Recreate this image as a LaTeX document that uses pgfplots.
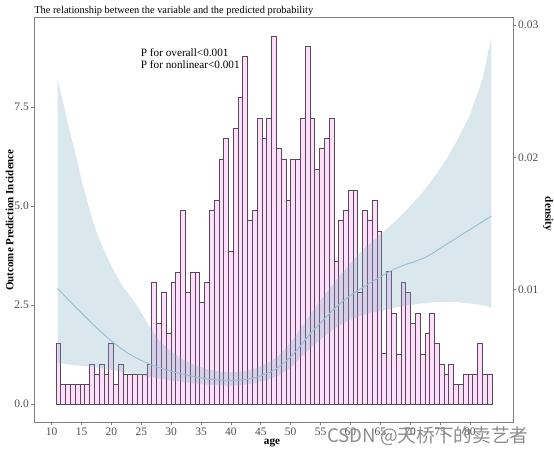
\documentclass[border=0pt]{standalone}
\usepackage{fontspec}
\setmainfont{Liberation Serif}
\newfontfamily\cjk{Noto Sans CJK SC}
\usepackage{pgfplots}
\pgfplotsset{compat=1.18}

\definecolor{barfill}{RGB}{255,222,253}
\definecolor{baredge}{RGB}{85,75,85}
\definecolor{bandcol}{RGB}{122,170,192}
\definecolor{fitcol}{RGB}{150,192,208}
\definecolor{axgray}{RGB}{128,128,128}
\definecolor{ticktext}{RGB}{77,77,77}

\pgfplotsset{base/.style={at={(0,0)}, anchor=south west, scale only axis,
  width=359.25pt, height=303.75pt},
  tickfont/.style={font=\fontsize{8.6}{10}\selectfont, text=ticktext}}

\begin{document}
\begin{tikzpicture}[x=0.75pt,y=0.75pt]

% histogram (bar index axis)
\begin{axis}[base, xmin=-4.592, xmax=95.39, ymin=-0.4545, ymax=9.773, hide axis]
\addplot[ybar interval, fill=barfill, draw=baredge, line width=0.55pt] coordinates {
(0,1.52) (1,0.50) (2,0.50) (3,0.50) (4,0.50) (5,0.50) (6,0.50) (7,1.00) (8,0.75) (9,1.00)
(10,0.75) (11,1.52) (12,0.50) (13,1.00) (14,0.75) (15,0.75) (16,0.75) (17,0.75) (18,0.75) (19,1.00)
(20,3.06) (21,2.04) (22,2.81) (23,1.79) (24,3.06) (25,3.32) (26,4.88) (27,2.82) (28,3.32) (29,3.32)
(30,2.57) (31,3.07) (32,4.88) (33,5.13) (34,6.19) (35,6.70) (36,3.86) (37,6.95) (38,7.74) (39,8.77)
(40,4.63) (41,4.88) (42,7.21) (43,6.70) (44,7.21) (45,9.29) (46,6.45) (47,6.19) (48,5.13) (49,6.19)
(50,6.19) (51,7.21) (52,9.04) (53,7.21) (54,5.93) (55,6.45) (56,6.70) (57,7.21) (58,3.60) (59,4.63)
(60,4.88) (61,5.40) (62,5.40) (63,2.82) (64,4.88) (65,4.63) (66,5.13) (67,4.37) (68,1.28) (69,3.34)
(70,2.29) (71,1.26) (72,3.07) (73,2.81) (74,2.04) (75,2.29) (76,1.26) (77,1.78) (78,2.29) (79,1.52)
(80,1.00) (81,0.76) (82,1.00) (83,0.50) (84,0.50) (85,0.76) (86,0.76) (87,0.76) (88,1.52) (89,0.76)
(90,0.76) (91,0.76)};
\end{axis}

% main axis: band + fitted line
\begin{axis}[base, xmin=7.038, xmax=87.21, ymin=-0.4545, ymax=9.773,
  axis line style={axgray, line width=0.6pt},
  xtick={10,15,...,80}, xticklabels={10,15,20,25,30,35,40,45,50,55,60,65,70,75,80},
  ytick={0,2.5,5,7.5}, yticklabels={0.0,2.5,5.0,7.5},
  xtick pos=bottom, ytick pos=left, tick align=outside,
  major tick length=2.5pt, tick style={axgray, line width=0.6pt},
  ticklabel style={tickfont},
  xticklabel style={inner sep=1.5pt}, yticklabel style={inner sep=1.2pt}]
% confidence band: upper bound left to right, then lower bound right to left
\addplot[fill=bandcol, fill opacity=0.28, draw=none] coordinates {
(11,8.2) (12,7.55) (13,6.9) (14,6.3) (15,5.65) (16,5.1) (17,4.55) (18,4.15) (19,3.8) (20,3.48)
(21,3.2) (22,2.95) (23,2.75) (24,2.55) (25,2.3) (26,2.05) (27,1.82) (28,1.6) (30,1.33) (32,1.12)
(34,0.98) (36,0.88) (38,0.82) (40,0.8) (42,0.82) (44,0.89) (46,1.02) (48,1.22) (50,1.55) (52,1.98)
(54,2.42) (56,2.82) (58,3.2) (60,3.55) (62,3.88) (64,4.15) (66,4.42) (68,4.68) (70,5.0) (72,5.33)
(74,5.72) (76,6.16) (78,6.7) (80,7.3) (82,8.15) (83.6,9.27)
(83.6,2.44) (82,2.5) (80,2.54) (78,2.57) (76,2.58) (74,2.57) (72,2.54) (70,2.5) (68,2.45) (66,2.38)
(64,2.32) (62,2.24) (60,2.13) (58,1.97) (56,1.75) (54,1.5) (52,1.22) (50,0.92) (48,0.72) (46,0.6)
(44,0.53) (42,0.48) (40,0.46) (38,0.47) (35,0.5) (32,0.55) (29,0.62) (26,0.7) (23,0.78) (20,0.86)
(17,0.93) (14,0.98) (11,1.03)} -- cycle;
\addplot[fitcol, line width=0.7pt, smooth] coordinates {
(11,2.92) (13,2.6) (15,2.3) (17,2.0) (19,1.72) (21,1.47) (23,1.26) (25,1.1) (27,0.97) (29,0.87)
(31,0.79) (33,0.72) (35,0.66) (37,0.62) (39,0.60) (41,0.60) (43,0.63) (45,0.71) (47,0.84) (49,1.05)
(51,1.35) (53,1.73) (55,2.05) (57,2.36) (59,2.63) (61,2.84) (63,3.03) (65,3.21) (67,3.38) (69,3.51)
(71,3.61) (73,3.74) (75,3.93) (77,4.12) (79,4.31) (81,4.5) (83,4.69) (83.6,4.75)};
\end{axis}

% secondary density axis
\begin{axis}[base, xmin=7.038, xmax=87.21, ymin=0, ymax=0.0306,
  axis x line=none, axis y line*=right,
  axis line style={axgray, line width=0.6pt, -},
  scaled y ticks=false,
  ytick={0.01,0.02,0.03}, yticklabels={0.01,0.02,0.03},
  ytick pos=right, tick align=outside,
  major tick length=2.5pt, tick style={axgray, line width=0.6pt},
  ticklabel style={tickfont}, yticklabel style={inner sep=1.2pt}]
\addplot[draw=none] coordinates {(10,0.01) (80,0.02)};
\end{axis}

% texts
\node[anchor=west, inner sep=0pt, font=\fontsize{7.8}{9}\selectfont] at (0,411)
  {The relationship between the variable and the predicted probability};
\node[anchor=west, inner sep=0pt, font=\fontsize{8.4}{10}\selectfont] at (106.7,369.7)
  {P for overall<0.001};
\node[anchor=west, inner sep=0pt, font=\fontsize{8.4}{10}\selectfont] at (106.7,357.7)
  {P for nonlinear<0.001};
\node[inner sep=0pt, font=\bfseries\fontsize{8.4}{10}\selectfont] at (238,-21) {age};
\node[inner sep=0pt, rotate=90, font=\bfseries\fontsize{8.2}{10}\selectfont] at (-24.3,202)
  {Outcome Prediction Incidence};
\node[inner sep=0pt, rotate=-90, font=\bfseries\fontsize{8.4}{10}\selectfont] at (514,208)
  {density};
\node[anchor=west, inner sep=0pt, text=black!45, font=\cjk\fontsize{14}{14}\selectfont] at (293,-14)
  {CSDN @天桥下的卖艺者};

\pgfresetboundingbox
\useasboundingbox (-34,-31) rectangle (520,422);
\end{tikzpicture}
\end{document}
